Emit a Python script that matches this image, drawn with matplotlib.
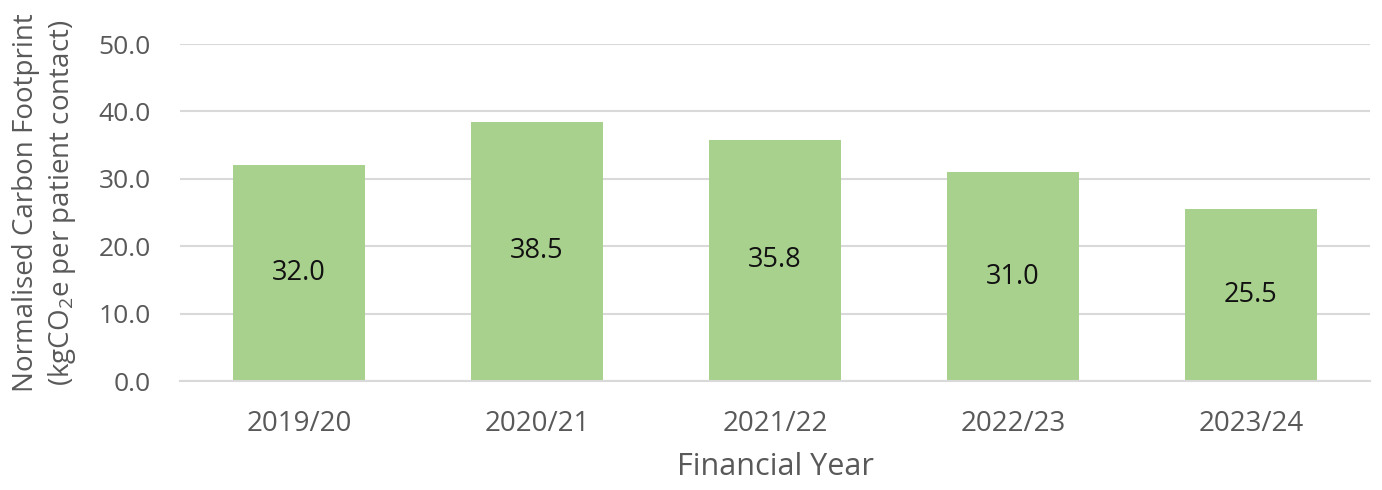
import matplotlib
matplotlib.use("Agg")
import matplotlib.pyplot as plt

years = ["2019/20", "2020/21", "2021/22", "2022/23", "2023/24"]
footprint = [32.0, 38.5, 35.8, 31.0, 25.5]
y_ticks = [0, 10, 20, 30, 40, 50]

plt.rcParams["font.family"] = ["Open Sans", "DejaVu Sans"]
plt.rcParams["mathtext.default"] = "regular"

fig = plt.figure(figsize=(13.82, 4.90), dpi=100)
ax = fig.add_axes([0.1302, 0.2224, 0.8611, 0.6878])

x = range(len(years))
bars = ax.bar(x, footprint, width=0.555, color="#a9d18e", zorder=2)
for b, v in zip(bars, footprint):
    ax.text(b.get_x() + b.get_width() / 2, v / 2, f"{v:.1f}",
            ha="center", va="center", fontsize=19.5, color="#111111", zorder=3)

ax.set_xlim(-0.5, len(years) - 0.5)
ax.set_ylim(0, 50)
ax.set_yticks(y_ticks)
ax.set_yticklabels([f"{t:.1f}" for t in y_ticks])
ax.set_xticks(list(x))
ax.set_xticklabels(years)

ax.grid(axis="y", color="#d9d9d9", linewidth=1.5, zorder=0)
for s in ["top", "right", "left"]:
    ax.spines[s].set_visible(False)
ax.spines["bottom"].set_color("#d9d9d9")
ax.spines["bottom"].set_linewidth(1.5)

ax.tick_params(axis="both", length=0, labelcolor="#595959")
ax.tick_params(axis="y", pad=21, labelsize=19)
ax.tick_params(axis="x", pad=21, labelsize=20)

ax.set_xlabel("Financial Year", fontsize=22, color="#595959", labelpad=10)
ax.set_ylabel("Normalised Carbon Footprint\n(kgCO$_2$e per patient contact)",
              fontsize=20, color="#595959", linespacing=1.25)
ax.yaxis.set_label_coords(-0.086, 0.53)

fig.savefig("out.png", dpi=100, facecolor="white")
